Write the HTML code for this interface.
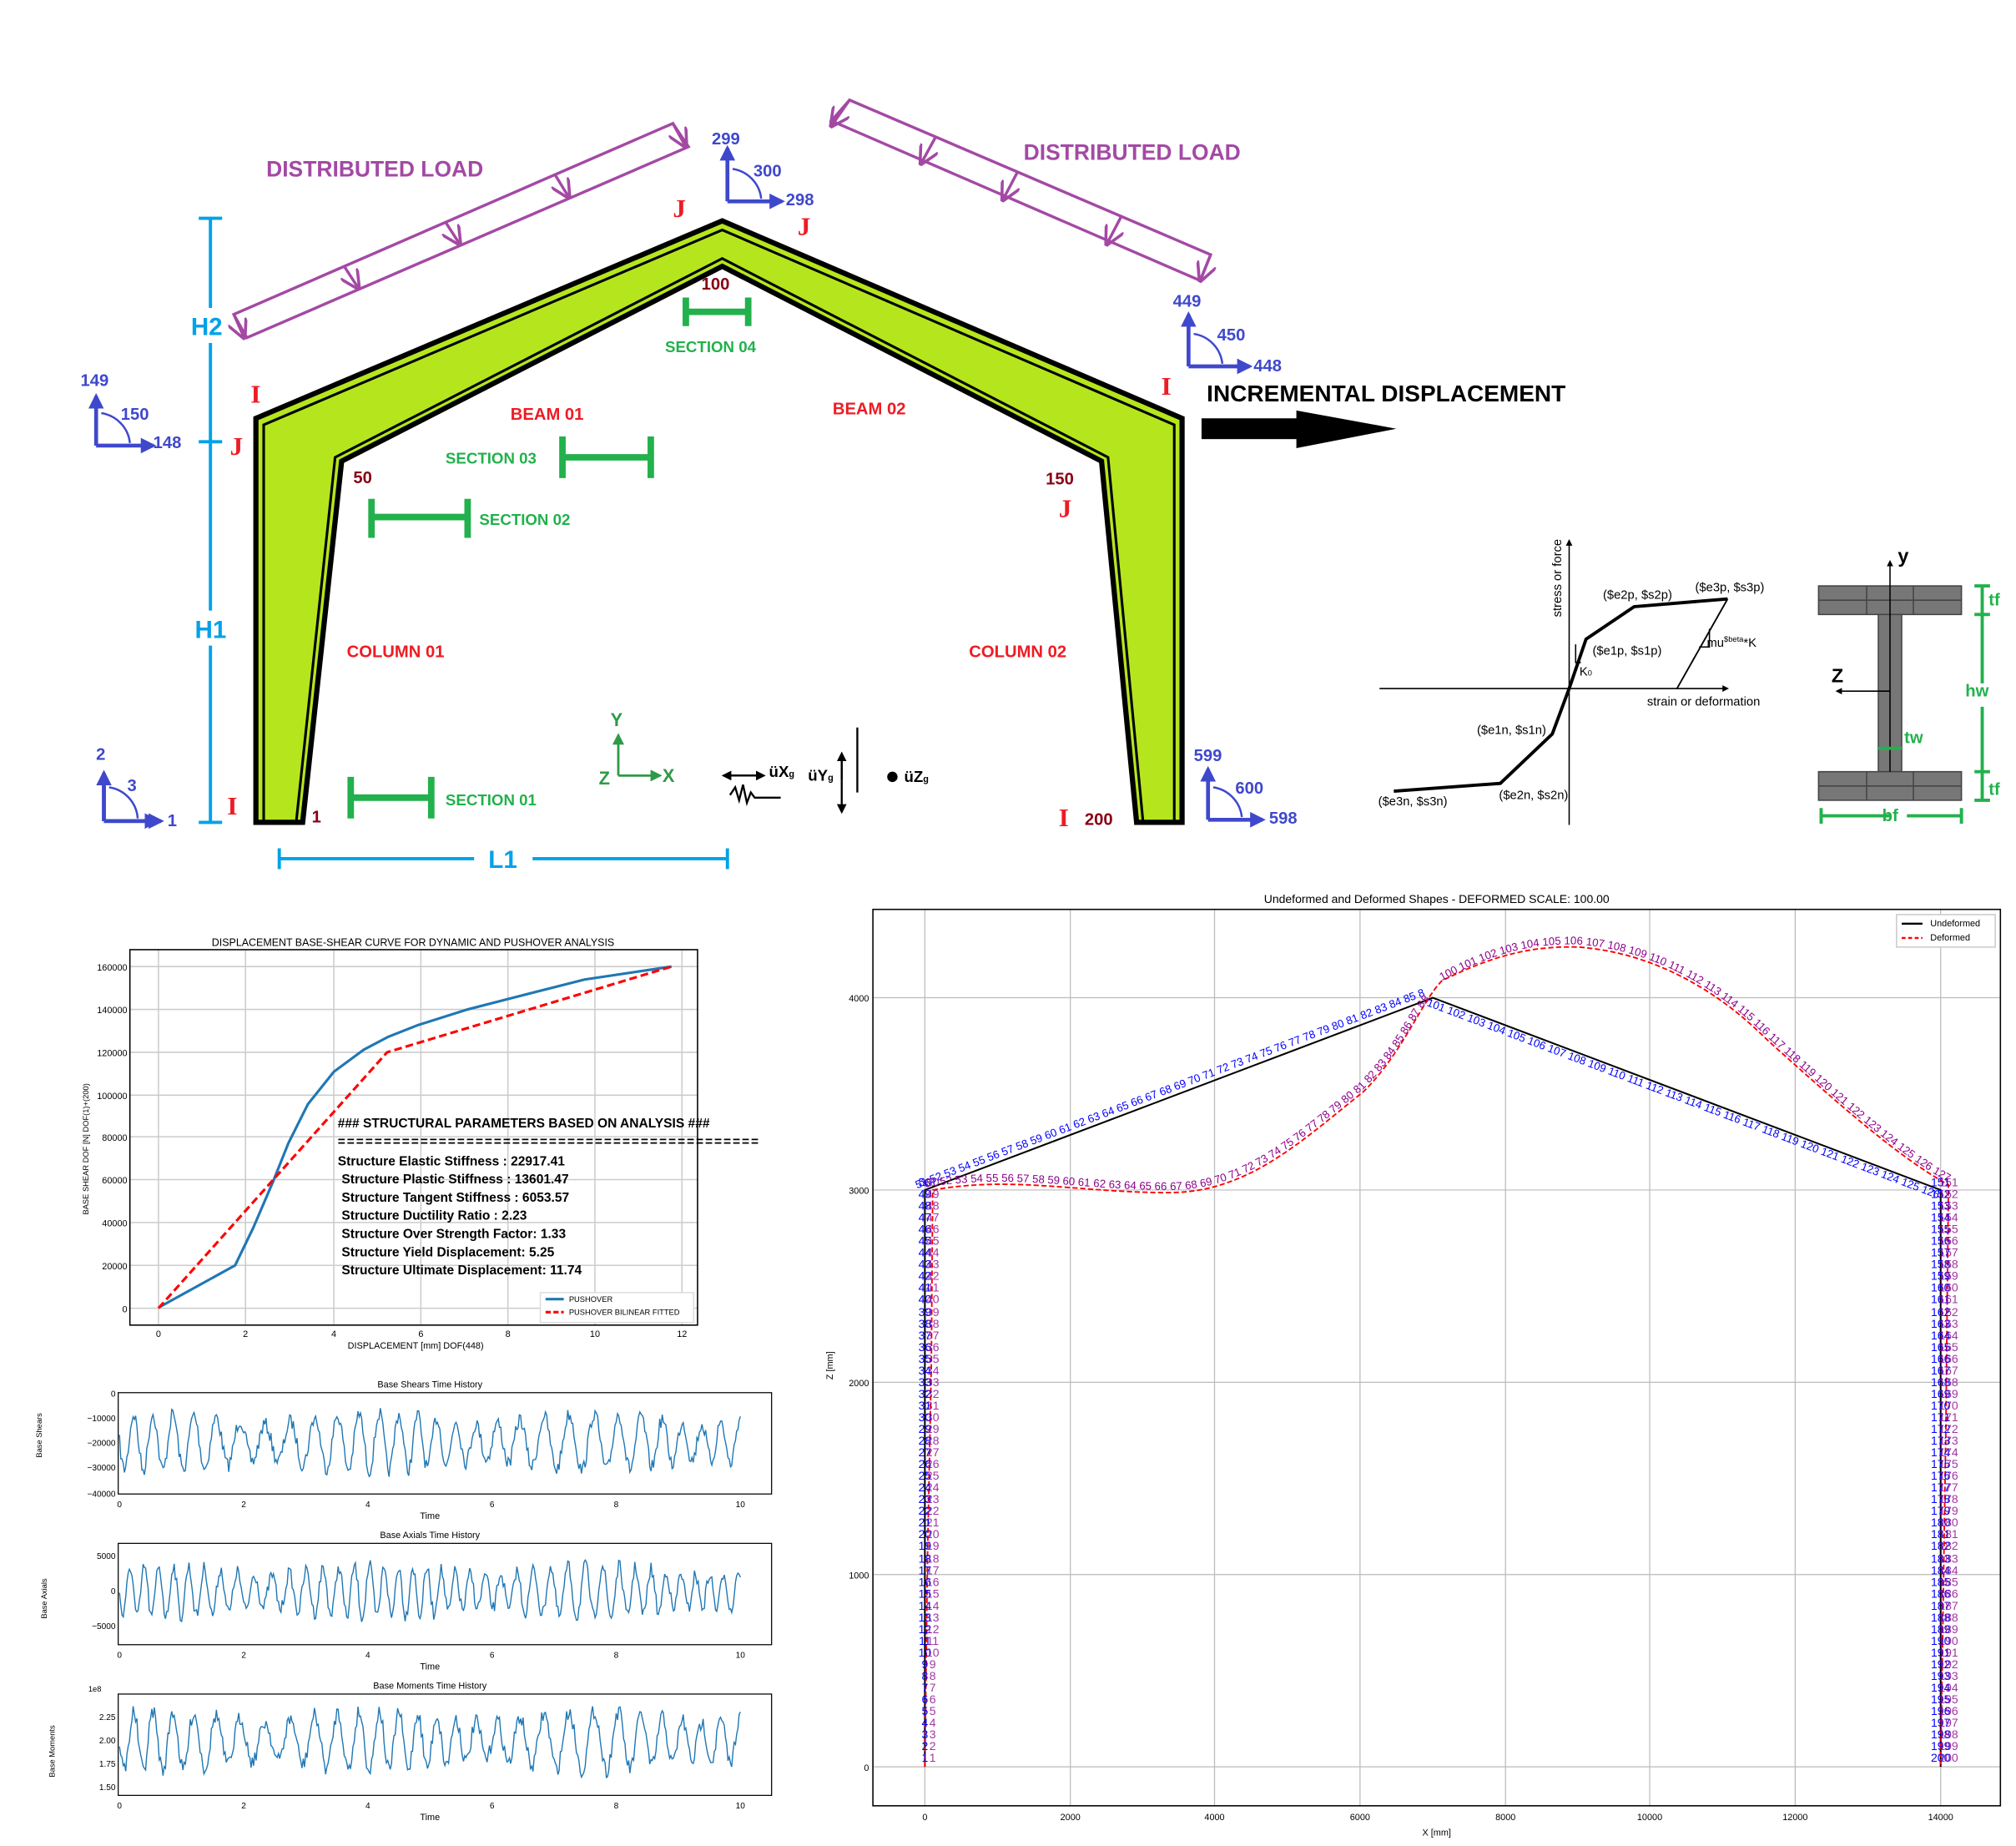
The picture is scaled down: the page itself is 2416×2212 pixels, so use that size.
<!DOCTYPE html>
<html><head><meta charset="utf-8">
<style>
html,body{margin:0;padding:0;background:#fff;}
body{width:2416px;height:2212px;overflow:hidden;position:relative;}
#w{position:absolute;left:0;top:0;width:1552px;height:1421px;transform:scale(1.556701);transform-origin:0 0;font-family:"Liberation Sans",sans-serif;}
svg{position:absolute;left:0;top:0;}
.col{position:absolute;font-size:9px;line-height:9.05px;text-align:center;font-family:"Liberation Sans",sans-serif;}
</style></head><body><div id="w">
<svg width="1552" height="1421" viewBox="0 0 1552 1421" font-family="Liberation Sans, sans-serif">
<defs>
<marker id="ab" viewBox="0 0 10 10" refX="8" refY="5" markerWidth="4" markerHeight="4" orient="auto"><path d="M0 0L10 5L0 10z" fill="#3f48cc"/></marker>
<marker id="ak" viewBox="0 0 10 10" refX="8" refY="5" markerWidth="5" markerHeight="5" orient="auto"><path d="M0 0L10 5L0 10z" fill="#000"/></marker>
<marker id="ag" viewBox="0 0 10 10" refX="8" refY="5" markerWidth="5" markerHeight="5" orient="auto"><path d="M0 0L10 5L0 10z" fill="#2e9a48"/></marker>
<marker id="ap" viewBox="0 0 10 10" refX="9" refY="5" markerWidth="7" markerHeight="7" orient="auto"><path d="M0 0L10 5L0 10" fill="none" stroke="#a349a4" stroke-width="1.5"/></marker>
</defs>
<!-- frame -->
<polygon points="197,633 197,322 556,170 910,322 910,633 875,633 848,355 556,205 263,355 233,633" fill="#b5e61d" stroke="#000" stroke-width="4"/>
<polyline points="203,633 203,327 556,177 904,327 904,633" fill="none" stroke="#000" stroke-width="2"/>
<polyline points="880,633 853,352 556,199 258,352 228,633" fill="none" stroke="#000" stroke-width="2"/>
<!-- distributed loads -->
<g stroke="#a349a4" stroke-width="2.2" fill="none">
<polygon points="180,242 518,95 530,113 190,260"/>
<line x1="180" y1="242" x2="188" y2="260" marker-end="url(#ap)"/>
<line x1="518" y1="95" x2="528" y2="113" marker-end="url(#ap)"/>
<line x1="265" y1="205" x2="276" y2="222" marker-end="url(#ap)"/>
<line x1="343" y1="171" x2="354" y2="188" marker-end="url(#ap)"/>
<line x1="427" y1="134" x2="438" y2="152" marker-end="url(#ap)"/>
<polygon points="654,77 932,196 924,216 640,93"/>
<line x1="654" y1="77" x2="640" y2="97" marker-end="url(#ap)"/>
<line x1="932" y1="196" x2="924" y2="216" marker-end="url(#ap)"/>
<line x1="720" y1="106" x2="709" y2="126" marker-end="url(#ap)"/>
<line x1="783" y1="133" x2="772" y2="154" marker-end="url(#ap)"/>
<line x1="863" y1="167" x2="852" y2="188" marker-end="url(#ap)"/>
</g>
<g font-weight="bold" fill="#a349a4" font-size="17"><text x="205" y="136">DISTRIBUTED LOAD</text><text x="788" y="123">DISTRIBUTED LOAD</text></g>
<!-- dimensions -->
<g stroke="#00a2e8" stroke-width="2.5">
<line x1="162" y1="168" x2="162" y2="237"/><line x1="162" y1="264" x2="162" y2="470"/><line x1="162" y1="497" x2="162" y2="633"/>
<line x1="153" y1="168" x2="171" y2="168"/><line x1="153" y1="340" x2="171" y2="340"/><line x1="153" y1="633" x2="171" y2="633"/>
<line x1="215" y1="661" x2="365" y2="661"/><line x1="410" y1="661" x2="560" y2="661"/>
<line x1="215" y1="653" x2="215" y2="669"/><line x1="560" y1="653" x2="560" y2="669"/>
</g>
<g fill="#00a2e8" font-weight="bold" font-size="19"><text x="147" y="258">H2</text><text x="150" y="491">H1</text><text x="376" y="668">L1</text></g>
<!-- node dof glyphs -->
<g stroke="#3f48cc" stroke-width="3" fill="none">
<path d="M80 632V598M80 632H121" marker-end="url(#ab)"/><line x1="80" y1="632" x2="80" y2="595" marker-end="url(#ab)"/><line x1="80" y1="632" x2="124" y2="632" marker-end="url(#ab)"/><path d="M84 606A26 26 0 0 1 106 630" stroke-width="1.6"/>
<line x1="74" y1="343" x2="74" y2="305" marker-end="url(#ab)"/><line x1="74" y1="343" x2="118" y2="343" marker-end="url(#ab)"/><path d="M78 318A26 26 0 0 1 100 341" stroke-width="1.6"/>
<line x1="560" y1="155" x2="560" y2="114" marker-end="url(#ab)"/><line x1="560" y1="155" x2="602" y2="155" marker-end="url(#ab)"/><path d="M564 130A26 26 0 0 1 586 153" stroke-width="1.6"/>
<line x1="915" y1="282" x2="915" y2="242" marker-end="url(#ab)"/><line x1="915" y1="282" x2="962" y2="282" marker-end="url(#ab)"/><path d="M919 257A26 26 0 0 1 941 280" stroke-width="1.6"/>
<line x1="930" y1="631" x2="930" y2="592" marker-end="url(#ab)"/><line x1="930" y1="631" x2="972" y2="631" marker-end="url(#ab)"/><path d="M934 606A26 26 0 0 1 956 629" stroke-width="1.6"/>
</g>
<g fill="#3f48cc" font-weight="bold" font-size="13">
<text x="74" y="585">2</text><text x="98" y="609">3</text><text x="129" y="636">1</text>
<text x="62" y="297">149</text><text x="93" y="323">150</text><text x="118" y="345">148</text>
<text x="548" y="111">299</text><text x="580" y="136">300</text><text x="605" y="158">298</text>
<text x="903" y="236">449</text><text x="937" y="262">450</text><text x="965" y="286">448</text>
<text x="919" y="586">599</text><text x="951" y="611">600</text><text x="977" y="634">598</text>
</g>
<g fill="#ed1c24" font-family="Liberation Serif, serif" font-weight="bold" font-size="20">
<text x="193" y="310">I</text><text x="177" y="350">J</text><text x="518" y="167">J</text><text x="614" y="181">J</text><text x="894" y="304">I</text><text x="815" y="398">J</text><text x="175" y="627">I</text><text x="815" y="636">I</text>
</g>
<g fill="#880015" font-weight="bold" font-size="13"><text x="540" y="223">100</text><text x="272" y="372">50</text><text x="805" y="373">150</text><text x="240" y="633">1</text><text x="835" y="635">200</text></g>
<g fill="#ed1c24" font-weight="bold" font-size="13"><text x="393" y="323">BEAM 01</text><text x="641" y="319">BEAM 02</text><text x="267" y="506">COLUMN 01</text><text x="746" y="506">COLUMN 02</text></g>
<!-- sections -->
<g stroke="#22b14c" stroke-width="5" fill="none">
<path d="M528 229v22M576 229v22M528 240h48"/>
<path d="M433 336v32M501 336v32M433 352h68"/>
<path d="M286 384v30M360 384v30M286 398h74"/>
<path d="M270 598v32M332 598v32M270 614h62"/>
</g>
<g fill="#22b14c" font-weight="bold" font-size="12"><text x="512" y="271">SECTION 04</text><text x="343" y="357">SECTION 03</text><text x="369" y="404">SECTION 02</text><text x="343" y="620">SECTION 01</text></g>
<!-- axes XYZ -->
<g stroke="#2e9a48" stroke-width="1.8"><line x1="476" y1="597" x2="476" y2="566" marker-end="url(#ag)"/><line x1="476" y1="597" x2="508" y2="597" marker-end="url(#ag)"/></g>
<g fill="#2e9a48" font-size="14" font-weight="bold"><text x="470" y="559">Y</text><text x="510" y="602">X</text><text x="461" y="604">Z</text></g>
<g stroke="#000" stroke-width="1.5"><line x1="560" y1="597" x2="588" y2="597" marker-end="url(#ak)"/><line x1="588" y1="597" x2="557" y2="597" marker-end="url(#ak)"/><line x1="648" y1="583" x2="648" y2="625" marker-end="url(#ak)"/><line x1="648" y1="600" x2="648" y2="580" marker-end="url(#ak)"/><line x1="660" y1="560" x2="660" y2="610"/><path d="M562 612l4-6 3 10 3-12 3 14 3-8 3 4h20" fill="none"/></g>
<circle cx="687" cy="598" r="4" fill="#000"/>
<g font-size="12" font-weight="bold"><text x="592" y="598">üX<tspan font-size="7">g</tspan></text><text x="622" y="601">üY<tspan font-size="7">g</tspan></text><text x="696" y="602">üZ<tspan font-size="7">g</tspan></text></g>
<!-- incremental displacement -->
<text x="929" y="309" font-weight="bold" font-size="18" fill="#000">INCREMENTAL DISPLACEMENT</text>
<rect x="925" y="322" width="75" height="16" fill="#000"/><polygon points="998,316 1075,330 998,345" fill="#000"/>
<!-- material curve -->
<g stroke="#000" fill="none"><line x1="1062" y1="530" x2="1330" y2="530" stroke-width="1" marker-end="url(#ak)"/><line x1="1208" y1="635" x2="1208" y2="416" stroke-width="1" marker-end="url(#ak)"/>
<polyline points="1073,609 1155,603 1195,565 1208,530 1221,492 1258,467 1330,461" stroke-width="2.5"/>
<line x1="1330" y1="461" x2="1291" y2="530" stroke-width="1.2"/><path d="M1308 498h8v-14" stroke-width="1"/><path d="M1217 510h-4v-14" stroke-width="1"/></g>
<g font-size="9.5" fill="#000"><text x="1234" y="461">($e2p, $s2p)</text><text x="1305" y="455">($e3p, $s3p)</text><text x="1226" y="504">($e1p, $s1p)</text><text x="1314" y="498">mu<tspan font-size="6" dy="-4">$beta</tspan><tspan dy="4">*K</tspan></text><text x="1216" y="520">K<tspan font-size="6">0</tspan></text><text x="1268" y="543">strain or deformation</text><text x="1137" y="565">($e1n, $s1n)</text><text x="1154" y="615">($e2n, $s2n)</text><text x="1061" y="620">($e3n, $s3n)</text><text transform="translate(1202,475) rotate(-90)">stress or force</text></g>
<!-- I-section -->
<g fill="#777" stroke="#444" stroke-width="1"><rect x="1400" y="451" width="110" height="22"/><rect x="1446" y="473" width="18" height="121"/><rect x="1400" y="594" width="110" height="22"/><path d="M1400 462h110M1437 451v22M1473 451v22M1400 605h110M1437 594v22M1473 594v22" fill="none"/></g>
<g stroke="#000" stroke-width="1"><line x1="1455" y1="594" x2="1455" y2="432" marker-end="url(#ak)"/><line x1="1455" y1="532" x2="1414" y2="532" marker-end="url(#ak)"/></g>
<g font-weight="bold" font-size="15"><text x="1461" y="433">y</text><text x="1410" y="525">Z</text></g>
<g stroke="#22b14c" stroke-width="2.5"><path d="M1526 451V526M1526 544V616M1520 451h12M1520 473h12M1520 594h12M1520 616h12M1402 628h53M1468 628h42M1402 622v12M1510 622v12M1446 576h18"/></g>
<g fill="#22b14c" font-weight="bold" font-size="13"><text x="1531" y="466">tf</text><text x="1513" y="536">hw</text><text x="1531" y="612">tf</text><text x="1466" y="572">tw</text><text x="1449" y="632">bf</text></g>

<!-- pushover chart -->
<text x="318" y="728" font-size="8" text-anchor="middle" fill="#000">DISPLACEMENT BASE-SHEAR CURVE FOR DYNAMIC AND PUSHOVER ANALYSIS</text>
<g stroke="#ccc" stroke-width="1"><path d="M122 731V1020M189 731V1020M257 731V1020M324 731V1020M391 731V1020M458 731V1020M525 731V1020M100 1007H537M100 974H537M100 941H537M100 908H537M100 875H537M100 843H537M100 810H537M100 777H537M100 744H537"/></g>
<rect x="100" y="731" width="437" height="289" fill="none" stroke="#000" stroke-width="1"/>
<g font-size="7" text-anchor="end"><text x="98" y="1010">0</text><text x="98" y="977">20000</text><text x="98" y="944">40000</text><text x="98" y="911">60000</text><text x="98" y="878">80000</text><text x="98" y="846">100000</text><text x="98" y="813">120000</text><text x="98" y="780">140000</text><text x="98" y="747">160000</text></g>
<g font-size="7" text-anchor="middle"><text x="122" y="1029">0</text><text x="189" y="1029">2</text><text x="257" y="1029">4</text><text x="324" y="1029">6</text><text x="391" y="1029">8</text><text x="458" y="1029">10</text><text x="525" y="1029">12</text><text x="320" y="1038">DISPLACEMENT [mm] DOF(448)</text></g>
<text transform="translate(68,935) rotate(-90)" font-size="6">BASE SHEAR DOF [N]  DOF(1)+(200)</text>
<polyline points="123,1006 181,974 195,945 210,910 222,880 237,850 257,825 280,808 299,798 322,789 360,777 391,769 450,754 517,744" fill="none" stroke="#1f77b4" stroke-width="2"/>
<polyline points="122,1007 298,810 517,744" fill="none" stroke="#f00" stroke-width="2" stroke-dasharray="6,3"/>
<rect x="416" y="995" width="118" height="23" fill="#fff" stroke="#ddd"/>
<line x1="420" y1="1000" x2="434" y2="1000" stroke="#1f77b4" stroke-width="2"/><line x1="420" y1="1010" x2="434" y2="1010" stroke="#f00" stroke-width="2" stroke-dasharray="4,2"/>
<g font-size="6"><text x="438" y="1002">PUSHOVER</text><text x="438" y="1012">PUSHOVER BILINEAR FITTED</text></g>
<g font-size="10" fill="#000" font-weight="bold"><text x="260" y="868">###     STRUCTURAL PARAMETERS BASED ON ANALYSIS      ###</text><text x="260" y="882" textLength="324" lengthAdjust="spacing">==============================================</text>
<text x="260" y="897">Structure Elastic Stiffness :     22917.41</text><text x="263" y="911">Structure Plastic Stiffness :      13601.47</text><text x="263" y="925">Structure Tangent Stiffness :     6053.57</text><text x="263" y="939">Structure Ductility Ratio :      2.23</text><text x="263" y="953">Structure Over Strength Factor:    1.33</text><text x="263" y="967">Structure Yield Displacement:     5.25</text><text x="263" y="981">Structure Ultimate Displacement:   11.74</text></g>

<!-- time histories -->
<g font-size="7" text-anchor="middle"><text x="331" y="1068">Base Shears Time History</text><text x="331" y="1184">Base Axials Time History</text><text x="331" y="1300">Base Moments Time History</text>
<text x="331" y="1169">Time</text><text x="331" y="1285">Time</text><text x="331" y="1401">Time</text></g>
<g fill="none" stroke="#000" stroke-width="0.8"><rect x="91" y="1072" width="503" height="78"/><rect x="91" y="1188" width="503" height="78"/><rect x="91" y="1304" width="503" height="78"/></g>
<g font-size="6.5" text-anchor="middle" id="tk"></g>
<g font-size="6.5" text-anchor="end"><text x="89" y="1075">0</text><text x="89" y="1094">−10000</text><text x="89" y="1113">−20000</text><text x="89" y="1132">−30000</text><text x="89" y="1152">−40000</text>
<text x="89" y="1200">5000</text><text x="89" y="1227">0</text><text x="89" y="1254">−5000</text>
<text x="89" y="1324">2.25</text><text x="89" y="1342">2.00</text><text x="89" y="1360">1.75</text><text x="89" y="1378">1.50</text></g>
<text x="68" y="1302" font-size="6">1e8</text>
<g font-size="6"><text transform="translate(32,1122) rotate(-90)">Base Shears</text><text transform="translate(36,1246) rotate(-90)">Base Axials</text><text transform="translate(42,1368) rotate(-90)">Base Moments</text></g>
<polyline id="s1" fill="none" stroke="#1f77b4" stroke-width="0.9"/><polyline id="s2" fill="none" stroke="#1f77b4" stroke-width="0.9"/><polyline id="s3" fill="none" stroke="#1f77b4" stroke-width="0.9"/>

<!-- deformed plot -->
<text x="1106" y="695" font-size="9" text-anchor="middle">Undeformed and Deformed Shapes - DEFORMED SCALE: 100.00</text>
<g stroke="#bbb" stroke-width="0.8"><path d="M712 700V1390M824 700V1390M935 700V1390M1047 700V1390M1159 700V1390M1270 700V1390M1382 700V1390M1494 700V1390M672 1360H1540M672 1212H1540M672 1064H1540M672 916H1540M672 768H1540"/></g>
<rect x="672" y="700" width="868" height="690" fill="none" stroke="#000" stroke-width="1"/>
<g font-size="7" text-anchor="middle"><text x="712" y="1401">0</text><text x="824" y="1401">2000</text><text x="935" y="1401">4000</text><text x="1047" y="1401">6000</text><text x="1159" y="1401">8000</text><text x="1270" y="1401">10000</text><text x="1382" y="1401">12000</text><text x="1494" y="1401">14000</text><text x="1106" y="1413">X [mm]</text></g>
<g font-size="7" text-anchor="end"><text x="669" y="1363">0</text><text x="669" y="1215">1000</text><text x="669" y="1067">2000</text><text x="669" y="919">3000</text><text x="669" y="771">4000</text></g>
<text transform="translate(641,1062) rotate(-90)" font-size="7">Z [mm]</text>
<polyline points="712,1360 712,916 1103,768 1494,916 1494,1360" fill="none" stroke="#000" stroke-width="1.3"/>
<path d="M712 1360 L714 1200 L717 1050 L718 916 C780 905 830 918 900 918 C960 918 1000 880 1050 840 C1080 810 1095 770 1110 755 C1150 735 1180 728 1215 729 C1270 733 1320 760 1360 800 C1410 845 1460 890 1500 912 L1498 1100 L1494 1360" fill="none" stroke="#f00" stroke-width="1.2" stroke-dasharray="4,2"/>
<g font-size="8.5" fill="#00f"><text><textPath href="#bl">51 52 53 54 55 56 57 58 59 60 61 62 63 64 65 66 67 68 69 70 71 72 73 74 75 76 77 78 79 80 81 82 83 84 85 86 87 88 89 90 91 92 93 94 95 96 97 98 99 100</textPath></text>
<text><textPath href="#br">101 102 103 104 105 106 107 108 109 110 111 112 113 114 115 116 117 118 119 120 121 122 123 124 125 126 127 128 129 130 131 132 133 134 135 136 137 138 139 140 141 142 143 144 145 146 147 148 149 150</textPath></text></g>
<g font-size="8.5" fill="#8b008b"><text><textPath href="#dl">51 52 53 54 55 56 57 58 59 60 61 62 63 64 65 66 67 68 69 70 71 72 73 74 75 76 77 78 79 80 81 82 83 84 85 86 87 88 89 90 91 92 93 94 95 96 97 98 99</textPath></text>
<text><textPath href="#dr">100 101 102 103 104 105 106 107 108 109 110 111 112 113 114 115 116 117 118 119 120 121 122 123 124 125 126 127 128 129 130 131 132 133 134 135 136 137 138 139 140 141 142 143 144 145 146 147 148 149 150</textPath></text></g>
<defs>
<path id="bl" d="M706 915 L1098 766"/><path id="br" d="M1098 774 L1490 922"/>
<path id="dl" d="M712 914 C780 903 830 916 900 916 C960 916 1000 878 1050 838 C1080 808 1090 780 1100 770"/>
<path id="dr" d="M1110 755 C1150 733 1180 726 1215 727 C1270 731 1320 758 1360 798 C1410 843 1460 888 1500 910"/>
</defs>
<rect x="1460" y="704" width="76" height="25" fill="#fff" stroke="#ccc"/>
<line x1="1464" y1="711" x2="1480" y2="711" stroke="#000" stroke-width="1.5"/><line x1="1464" y1="722" x2="1480" y2="722" stroke="#f00" stroke-width="1.5" stroke-dasharray="3,2"/>
<g font-size="7"><text x="1486" y="713">Undeformed</text><text x="1486" y="724">Deformed</text></g>
</svg>
<div class="col" style="left:702px;top:906px;width:20px;color:#00f">50<br>49<br>48<br>47<br>46<br>45<br>44<br>43<br>42<br>41<br>40<br>39<br>38<br>37<br>36<br>35<br>34<br>33<br>32<br>31<br>30<br>29<br>28<br>27<br>26<br>25<br>24<br>23<br>22<br>21<br>20<br>19<br>18<br>17<br>16<br>15<br>14<br>13<br>12<br>11<br>10<br>9<br>8<br>7<br>6<br>5<br>4<br>3<br>2<br>1</div>
<div class="col" style="left:708px;top:906px;width:20px;color:#8b008b;opacity:.8">50<br>49<br>48<br>47<br>46<br>45<br>44<br>43<br>42<br>41<br>40<br>39<br>38<br>37<br>36<br>35<br>34<br>33<br>32<br>31<br>30<br>29<br>28<br>27<br>26<br>25<br>24<br>23<br>22<br>21<br>20<br>19<br>18<br>17<br>16<br>15<br>14<br>13<br>12<br>11<br>10<br>9<br>8<br>7<br>6<br>5<br>4<br>3<br>2<br>1</div>
<div class="col" style="left:1482px;top:906px;width:24px;color:#00f">151<br>152<br>153<br>154<br>155<br>156<br>157<br>158<br>159<br>160<br>161<br>162<br>163<br>164<br>165<br>166<br>167<br>168<br>169<br>170<br>171<br>172<br>173<br>174<br>175<br>176<br>177<br>178<br>179<br>180<br>181<br>182<br>183<br>184<br>185<br>186<br>187<br>188<br>189<br>190<br>191<br>192<br>193<br>194<br>195<br>196<br>197<br>198<br>199<br>200</div>
<div class="col" style="left:1488px;top:906px;width:24px;color:#8b008b;opacity:.8">151<br>152<br>153<br>154<br>155<br>156<br>157<br>158<br>159<br>160<br>161<br>162<br>163<br>164<br>165<br>166<br>167<br>168<br>169<br>170<br>171<br>172<br>173<br>174<br>175<br>176<br>177<br>178<br>179<br>180<br>181<br>182<br>183<br>184<br>185<br>186<br>187<br>188<br>189<br>190<br>191<br>192<br>193<br>194<br>195<br>196<br>197<br>198<br>199<br>200</div>
</div>
<script>
var ns="http://www.w3.org/2000/svg",tk=document.getElementById("tk");
[1160,1276,1392].forEach(function(y){for(var t=0;t<=10;t+=2){var e=document.createElementNS(ns,"text");e.setAttribute("x",92+t*47.8);e.setAttribute("y",y);e.textContent=t;tk.appendChild(e);}});
var seed=7;function r(){seed=(seed*16807)%2147483647;return seed/2147483647;}
function sig(id,c,a,f){var p=[];for(var i=0;i<=500;i++){var t=i/50;var env=0.6+0.4*Math.abs(Math.sin(t*0.9+1));var v=Math.sin(t*f+Math.sin(t*1.3)*2)*env+(r()-0.5)*0.5;p.push((92+t*47.8).toFixed(1)+","+(c+v*a).toFixed(1));}document.getElementById(id).setAttribute("points",p.join(" "));}
sig("s1",1110,22,18);sig("s2",1225,20,25);sig("s3",1340,23,18);
</script>
</body></html>
